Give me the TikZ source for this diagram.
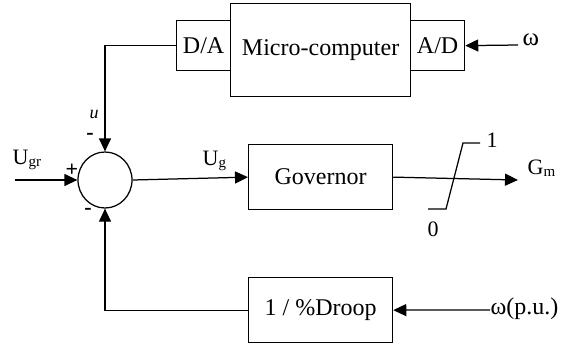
\documentclass[tikz,border=0pt]{standalone}
\usepackage{fontspec}
\setmainfont{Liberation Serif}
\usetikzlibrary{arrows.meta,shapes.geometric}
\begin{document}
\begin{tikzpicture}[x=1pt,y=-1pt,
  line width=1.25pt,
  every node/.style={font=\fontsize{24}{28}\selectfont},
  blk/.style={draw,rectangle,inner sep=0pt,anchor=north west},
  lbl/.style={inner sep=0pt,font=\fontsize{22}{26}\selectfont},
  sgn/.style={inner sep=0pt,font=\fontsize{22}{22}\selectfont\bfseries},
  tip/.style={-{Triangle[length=13pt,width=12pt]}}]
\useasboundingbox (0,0) rectangle (570,346);
\newcommand{\lowsub}[1]{\raisebox{-1.5pt}{\fontsize{15}{15}\selectfont #1}}

% blocks of the computer path
\node[blk,minimum width=180pt,minimum height=93pt] (mc) at (230,3) {};
\node at (mc.center) {Micro-computer};
\node[blk,minimum width=54pt,minimum height=50pt] (da) at (176,20) {};
\node at (da.center) {D/A};
\node[blk,minimum width=54pt,minimum height=50pt] (ad) at (410,20) {};
\node at (ad.center) {A/D};

% summing junction
\node[draw,ellipse,minimum width=54pt,minimum height=56pt,inner sep=0pt] (sum) at (105,180) {};

% governor and droop blocks
\node[blk,minimum width=144pt,minimum height=65pt] (gov) at (248,144) {};
\node at (gov.center) {Governor};
\node[blk,minimum width=144pt,minimum height=65pt] (dr) at (248,277) {};
\node at (dr.center) {1 / \%Droop};

% free ends
\coordinate (win) at (518,45);
\coordinate (ugr) at (15,180);
\coordinate (gout) at (518,180);
\coordinate (wpu) at (490,310);

% connectors
\draw[tip] (win) -- (ad.east);
\draw[tip] (da.west) -| (sum.north);
\draw[tip] (ugr) -- (sum.west);
\draw[tip] (sum.east) -- (gov.west);
\draw[tip] (gov.east) -- (gout);
\draw[tip] (wpu) -- (dr.east);
\draw[tip] (dr.west) -| (sum.south);

% saturation characteristic
\draw (428,209) -- (446,209) -- (463,143) -- (480,143);

% labels
\node[lbl,anchor=west,font=\fontsize{25}{28}\selectfont] at (522,40) {ω};
\node[lbl,anchor=west] at (12,160) {U\lowsub{gr}};
\node[sgn] at (72,170) {+};
\node[lbl,font=\fontsize{18}{18}\selectfont\itshape] at (94,114) {u};
\node[sgn] at (90,136) {-};
\node[sgn] at (88,211) {-};
\node[lbl,anchor=west] at (202,161) {U\lowsub{g}};
\node[lbl,anchor=west] at (527,168) {G\lowsub{m}};
\node[lbl] at (492,140) {1};
\node[lbl] at (433,229) {0};
\node[lbl,anchor=west,font=\fontsize{24}{28}\selectfont] at (490,309) {ω(p.u.)};
\end{tikzpicture}
\end{document}
